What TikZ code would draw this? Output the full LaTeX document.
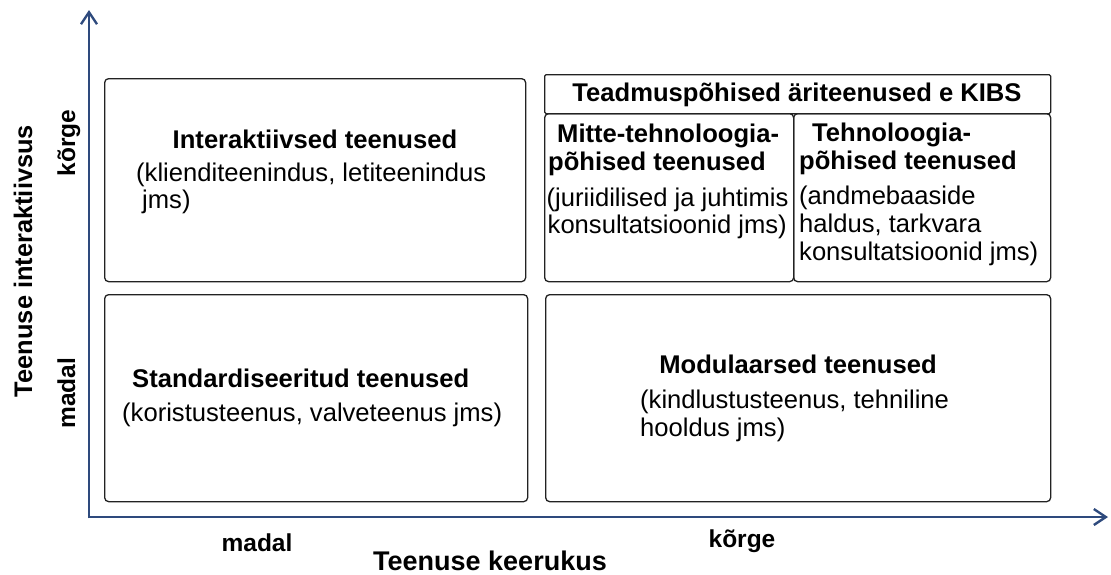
\documentclass[tikz,border=0pt]{standalone}
\usepackage{fontspec}
\setmainfont{Liberation Sans}
\usetikzlibrary{arrows.meta}
\definecolor{axisblue}{HTML}{2E4A7D}
\definecolor{boxline}{HTML}{222222}
\newcommand{\bodyfont}{\fontsize{25.6}{29}\selectfont}
\newcommand{\xlabfont}{\fontsize{27}{30}\selectfont\bfseries}
\newcommand{\ylabfont}{\fontsize{25.4}{28}\selectfont\bfseries}
\newcommand{\tickfont}{\fontsize{24.5}{28}\selectfont\bfseries}
\begin{document}
\begin{tikzpicture}[x=1pt,y=-1pt,
  panel/.style={draw=boxline,line width=1.3pt,rounded corners=4pt,inner sep=0pt},
  headbox/.style={draw=boxline,line width=1.3pt,rounded corners=1.5pt,inner sep=0pt},
  axisline/.style={draw=axisblue,line width=2.6pt,-{Straight Barb[length=12pt,width=16pt,line width=2.4pt]}},
  txt/.style={inner sep=0pt,font=\bodyfont},
  ttl/.style={inner sep=0pt,font=\bodyfont\bfseries},
  lab/.style={inner sep=0pt,anchor=base},
]
\useasboundingbox (0,0) rectangle (1111,574);

% quadrant panels
\node[panel,minimum width=421pt,minimum height=203pt,anchor=north west] (tl) at (104,78) {};
\node[panel,minimum width=423pt,minimum height=207pt,anchor=north west] (bl) at (104,294) {};
\node[panel,minimum width=505pt,minimum height=207pt,anchor=north west] (br) at (545,294) {};
\node[headbox,minimum width=506pt,minimum height=39pt,anchor=north west] (kibs) at (544,74) {};
\node[panel,minimum width=249pt,minimum height=168pt,anchor=north west] (mitte) at (544,113) {};
\node[panel,minimum width=257pt,minimum height=168pt,anchor=north west] (tehno) at (793,113) {};

% axes
\coordinate (origin) at (89,517);
\coordinate (ytip) at (89,10);
\coordinate (xtip) at (1108,517);
\coordinate (ybase) at (89,518.3);
\draw[axisline] (ybase) -- (ytip);
\draw[axisline] (origin) -- (xtip);

% top left
\node[ttl,anchor=base] (tlt) at (315,148) {Interaktiivsed teenused};
\node[txt,anchor=base west] (tl1) at (136,181) {(klienditeenindus, letiteenindus};
\node[txt,anchor=base west] (tl2) at (142,208) {jms)};

% bottom left
\node[ttl,anchor=base west] (blt) at (132,387) {Standardiseeritud teenused};
\node[txt,anchor=base west] (bl1) at (122,421) {(koristusteenus, valveteenus jms)};

% bottom right
\node[ttl,anchor=base] (brt) at (798,373) {Modulaarsed teenused};
\node[txt,anchor=base west] (br1) at (640,408) {(kindlustusteenus, tehniline};
\node[txt,anchor=base west] (br2) at (640,436) {hooldus jms)};

% knowledge-intensive services
\node[ttl,anchor=base] (kibst) at (797,101) {Teadmuspõhised äriteenused e KIBS};
\node[ttl,anchor=base west] (mt1) at (557,142) {Mitte-tehnoloogia-};
\node[ttl,anchor=base west] (mt2) at (548,170) {põhised teenused};
\node[txt,anchor=base west] (mt3) at (546.5,206) {(juriidilised ja juhtimis};
\node[txt,anchor=base west] (mt4) at (547.5,233) {konsultatsioonid jms)};
\node[ttl,anchor=base west] (tt1) at (812,141) {Tehnoloogia-};
\node[ttl,anchor=base west] (tt2) at (799,169) {põhised teenused};
\node[txt,anchor=base west] (tt3) at (799,204) {(andmebaaside};
\node[txt,anchor=base west] (tt4) at (799,232) {haldus, tarkvara};
\node[txt,anchor=base west] (tt5) at (799,260) {konsultatsioonid jms)};

% axis labels
\node[lab,font=\xlabfont] (xlab) at (490,570) {Teenuse keerukus};
\node[lab,font=\tickfont] (xlow) at (257,551) {madal};
\node[lab,font=\tickfont] (xhigh) at (742,547) {kõrge};
\node[lab,font=\ylabfont,rotate=90] (ylab) at (32,261) {Teenuse interaktiivsus};
\node[lab,font=\tickfont,rotate=90] (yhigh) at (75,143) {kõrge};
\node[lab,font=\tickfont,rotate=90] (ylow) at (75,393) {madal};
\end{tikzpicture}
\end{document}
